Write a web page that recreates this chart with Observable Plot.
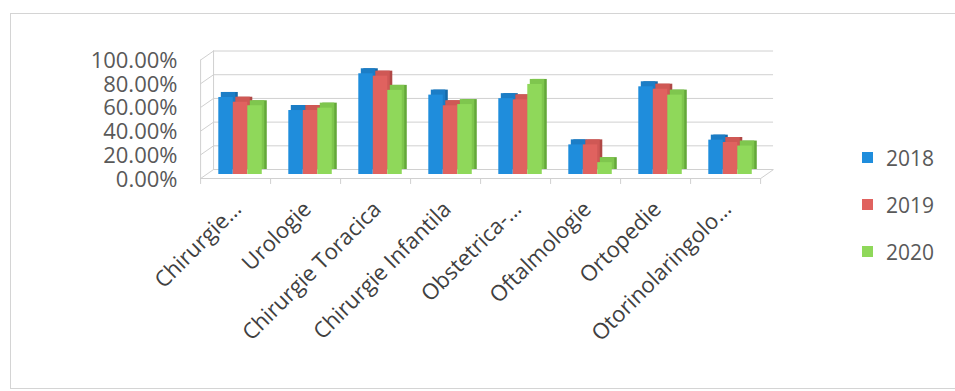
<!DOCTYPE html>
<html>
<head>
<meta charset="utf-8">
<script src="https://cdn.jsdelivr.net/npm/d3@7"></script>
<script src="https://cdn.jsdelivr.net/npm/@observablehq/plot@0.6"></script>
<style>
  html, body { margin: 0; padding: 0; background: #fff; }
  #wrap { position: relative; width: 955px; height: 391px; overflow: hidden; }
  #box { position: absolute; left: 10px; top: 13px; width: 950px; height: 376px;
         border: 1px solid #d4d4d4; box-sizing: border-box; }
  #chart { position: absolute; left: 0; top: 0; }
  #legend { position: absolute; left: 862px; top: 134px; font-family: "Open Sans", sans-serif;
            font-size: 21px; color: #595959; }
  .item { display: flex; align-items: center; height: 47px; }
  .sw { width: 11px; height: 11px; margin-right: 13px; }
</style>
</head>
<body>
<div id="wrap">
  <div id="box"></div>
  <div id="chart"></div>
  <div id="legend"></div>
</div>
<script>
// Surgical departments and yearly shares
const categories = ["Chirurgie…", "Urologie", "Chirurgie Toracica", "Chirurgie Infantila",
                    "Obstetrica-…", "Oftalmologie", "Ortopedie", "Otorinolaringolo…"];
const years = ["2018", "2019", "2020"];
const values2018 = [0.65, 0.54, 0.85, 0.67, 0.64, 0.25, 0.74, 0.29];
const values2019 = [0.61, 0.54, 0.83, 0.58, 0.63, 0.25, 0.72, 0.27];
const values2020 = [0.58, 0.56, 0.71, 0.59, 0.76, 0.10, 0.67, 0.24];
const yTicks = [0, 0.2, 0.4, 0.6, 0.8, 1];

const series = [values2018, values2019, values2020];
const faceColors = ["#1f8ddc", "#e0625f", "#8fd85a"];
const topColors = ["#1b7dc6", "#cf5855", "#7fc64e"];
const sideColors = ["#166aa8", "#b04846", "#64a83a"];

// long table: one row per category and year
const rows = [];
years.forEach((year, k) => {
  categories.forEach((cat, i) => rows.push({cat, i, year, k, value: series[k][i]}));
});

// pseudo-3D depth: offsets of the front and back planes from the bar plane (data units)
const FRONT = {x: -0.07, y: -0.034};
const BACK = {x: 0.115, y: 0.042};
const barHalf = 0.31, barW = 0.207;
const n = categories.length;
const edges = d3.range(n + 1).map(j => j - 0.5);

const grid = "#d0d0d0";
const marks = [
  // back wall gridlines
  Plot.ruleY(yTicks, {y: d => d + BACK.y, x1: -0.5 + BACK.x, x2: n - 0.5 + BACK.x, stroke: grid}),
  // left wall: back edge, front axis and the connecting ticks
  Plot.ruleX([-0.5 + BACK.x], {y1: BACK.y, y2: 1 + BACK.y, stroke: grid}),
  Plot.ruleX([-0.5 + FRONT.x], {y1: FRONT.y, y2: 1 + FRONT.y, stroke: grid}),
  Plot.link(yTicks, {x1: -0.5 + FRONT.x, y1: d => d + FRONT.y, x2: -0.5 + BACK.x, y2: d => d + BACK.y, stroke: grid}),
  // floor front edge, right edge and category ticks
  Plot.ruleY([FRONT.y], {x1: -0.5 + FRONT.x, x2: n - 0.5 + FRONT.x, stroke: grid}),
  Plot.link([0], {x1: n - 0.5 + FRONT.x, y1: FRONT.y, x2: n - 0.5 + BACK.x, y2: BACK.y, stroke: grid}),
  Plot.ruleX(edges, {x: d => d + FRONT.x, y1: FRONT.y, y2: FRONT.y - 0.05, stroke: grid})
];

// bars: side face, top face, then the front face, series by series
years.forEach((year, k) => {
  const data = rows.filter(r => r.k === k);
  const x1 = r => r.i - barHalf + k * barW;
  const x2 = r => r.i - barHalf + (k + 1) * barW;
  marks.push(Plot.rectY(data, {x1, x2, y: "value", fill: sideColors[k], dx: 5, dy: -5}));
  marks.push(Plot.rectY(data, {x1, x2, y: "value", fill: topColors[k], dx: 2.5, dy: -5}));
  marks.push(Plot.rectY(data, {x1, x2, y: "value", fill: faceColors[k]}));
});

// value axis labels on the front plane
marks.push(Plot.text(yTicks, {
  y: d => d + FRONT.y, text: d => d3.format(".2%")(d), frameAnchor: "left",
  textAnchor: "end", dx: -28, dy: 1, fontSize: 22, fill: "#595959"
}));

// rotated category labels
marks.push(Plot.text(categories, {
  x: (d, i) => i, y: FRONT.y, text: d => d, rotate: -45, textAnchor: "end",
  dx: -3, dy: 27, fontSize: 22, fill: "#404040"
}));

const chart = Plot.plot({
  width: 955,
  height: 391,
  marginLeft: 205,
  marginRight: 190,
  marginTop: 55.5,
  marginBottom: 217,
  style: {fontFamily: "'Open Sans', sans-serif", background: "transparent", overflow: "visible"},
  x: {type: "linear", domain: [-0.5, n - 0.5], axis: null},
  y: {domain: [0, 1], axis: null},
  marks
});
document.getElementById("chart").append(chart);

// legend
const legend = document.getElementById("legend");
years.forEach((year, k) => {
  const item = document.createElement("div");
  item.className = "item";
  const sw = document.createElement("span");
  sw.className = "sw";
  sw.style.background = faceColors[k];
  item.append(sw, document.createTextNode(year));
  legend.append(item);
});
</script>
</body>
</html>
